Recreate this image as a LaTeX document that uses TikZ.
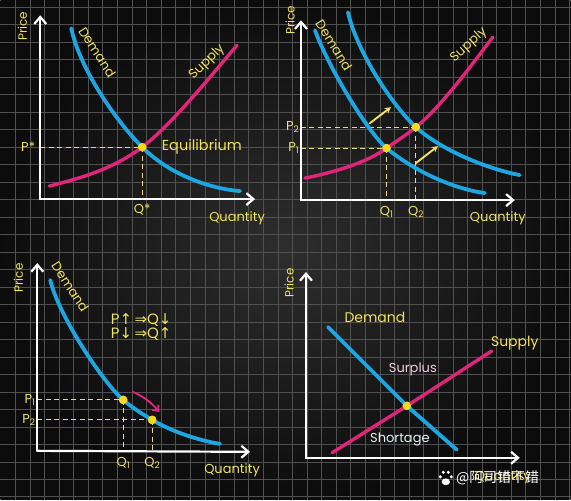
\documentclass[tikz,border=0pt]{standalone}
\usepackage{fontspec}
\setmainfont{Poppins}
\newfontfamily\symfont{DejaVu Sans}
\newfontfamily\cjkfont{Noto Sans CJK SC}
\usepackage{tikz}
\usetikzlibrary{arrows.meta,positioning,calc}
\definecolor{bdinner}{HTML}{2E2E2E}
\definecolor{bdouter}{HTML}{0C0C0C}
\definecolor{gridgray}{HTML}{505050}
\definecolor{dblue}{HTML}{1CA6E2}
\definecolor{smagenta}{HTML}{E2247A}
\definecolor{chalkyellow}{HTML}{F2E260}
\definecolor{dashyellow}{HTML}{E6DA8C}
\definecolor{dotyellow}{HTML}{F7D81C}
\definecolor{surpluspink}{HTML}{F2CFE2}
\definecolor{chalkwhite}{HTML}{E8F2F2}
\newcommand{\upar}{{\symfont\char"2191}}
\newcommand{\dnar}{{\symfont\char"2193}}
\newcommand{\impl}{{\symfont\char"21D2}}
\newcommand{\idx}[1]{{\fontsize{9}{10}\selectfont\raisebox{-2pt}{#1}}}

\begin{document}
\begin{tikzpicture}[x=1pt, y=-1pt,
  gridline/.style={draw=gridgray, line width=0.6pt},
  axis/.style={draw=white, line width=2.2pt, line cap=round, -{Straight Barb[length=7pt,width=12pt]}},
  dcurve/.style={draw=dblue, line width=3.8pt, line cap=round},
  scurve/.style={draw=smagenta, line width=3.4pt, line cap=round},
  guide/.style={draw=dashyellow, line width=1.2pt, dash pattern=on 5pt off 3.5pt},
  spot/.style={circle, fill=dotyellow, inner sep=0pt, minimum size=8.5pt},
  lab/.style={text=chalkyellow, inner sep=1pt, font=\fontsize{13}{15}\selectfont},
  axlab/.style={lab, rotate=90, font=\fontsize{12}{14}\selectfont},
  nudge/.style={draw=chalkyellow, line width=1.9pt, line cap=round, -{Stealth[length=6pt,width=6.5pt]}},
  slide/.style={draw=smagenta, line width=1.9pt, line cap=round, -{Straight Barb[length=4.5pt,width=8pt]}}]

% board
\shade[inner color=bdinner, outer color=bdouter] (0,0) rectangle (571,500);
\foreach \i in {0,...,38} \draw[gridline] ({15+14.6*\i},0) -- ({15+14.6*\i},500);
\foreach \j in {0,...,28} \draw[gridline] (0,{7+17.5*\j}) -- (571,{7+17.5*\j});
\useasboundingbox (0,0) rectangle (571,500);

% ---- panel 1: equilibrium
\coordinate (o1) at (40,199);
\node[spot] (e1) at (142,147) {};
\coordinate (q1) at (e1 |- o1);
\coordinate (p1) at (o1 |- e1);
\draw[guide] (p1) -- (e1.center);
\draw[guide] (e1.center) -- (q1);
\draw[scurve] (49,186) .. controls (80,178) and (112,169.5) .. (e1.center)
  .. controls (172,124.5) and (217,68) .. (237,45);
\draw[dcurve] (71,28) .. controls (80,70) and (117,122) .. (e1.center)
  .. controls (167,172) and (205,188) .. (240,191);
\node[spot] at (e1) {};
\draw[axis] (o1) -- (40,15);
\draw[axis] (o1) -- (255,199);
\node[axlab] (price1) at (22,26) {Price};
\node[lab, rotate=-57] (dem1) at (97,52) {Demand};
\node[lab, rotate=45] (sup1) at (207,62) {Supply};
\node[lab, left=4pt of p1] (pstar) {P*};
\node[lab, below=4pt of q1] (qstar) {Q*};
\node[lab, right=14pt of e1, font=\fontsize{14.5}{16}\selectfont] (eqm) {Equilibrium};
\node[lab] (qty1) at (237,218) {Quantity};

% ---- panel 2: demand shift
\coordinate (o2) at (301,200);
\node[spot] (e21) at (386.6,148) {};
\node[spot] (e22) at (416,127) {};
\coordinate (q21) at (e21 |- o2);
\coordinate (q22) at (e22 |- o2);
\coordinate (p21) at (o2 |- e21);
\coordinate (p22) at (o2 |- e22);
\draw[guide] (p22) -- (e22.center);
\draw[guide] (e22.center) -- (q22);
\draw[guide] (p21) -- (e21.center);
\draw[guide] (e21.center) -- (q21);
\draw[dcurve] (315,30) .. controls (328,66) and (367,131) .. (e21.center)
  .. controls (412,169) and (450,188) .. (485,193);
\draw[dcurve] (348,12) .. controls (358,55) and (396,109) .. (e22.center)
  .. controls (441,149.5) and (485,168) .. (520,175);
\draw[scurve] (305,178) .. controls (335,172) and (367,162.4) .. (e21.center)
  .. controls (397,140.8) and (406,135) .. (e22.center)
  .. controls (441,107) and (473,63) .. (493,37);
\node[spot] at (e21) {};
\node[spot] at (e22) {};
\coordinate (n1a) at (370,123);
\coordinate (n1b) at (391,107);
\coordinate (n2a) at (416,163);
\coordinate (n2b) at (438,146);
\draw[nudge] (n1a) -- (n1b);
\draw[nudge] (n2a) -- (n2b);
\draw[axis] (o2) -- (301,20);
\draw[axis] (o2) -- (515,200);
\node[axlab] (price2) at (290,20) {Price};
\node[lab, rotate=-58] (dem2) at (334,45) {Demand};
\node[lab, rotate=42] (sup2) at (469,45) {Supply};
\node[lab, left=1pt of p22] (pp2) {P\idx{2}};
\node[lab, left=1pt of p21] (pp1) {P\idx{1}};
\node[lab, below=5pt of q21] (qq1) {Q\idx{1}};
\node[lab, below=5pt of q22] (qq2) {Q\idx{2}};
\node[lab] (qty2) at (498,218) {Quantity};

% ---- panel 3: movement along demand
\coordinate (o3) at (37,451);
\node[spot] (e31) at (123,400) {};
\node[spot] (e32) at (152,420) {};
\coordinate (q31) at (e31 |- o3);
\coordinate (q32) at (e32 |- o3);
\coordinate (p31) at (o3 |- e31);
\coordinate (p32) at (o3 |- e32);
\draw[guide] (p31) -- (e31.center);
\draw[guide] (e31.center) -- (q31);
\draw[guide] (p32) -- (e32.center);
\draw[guide] (e32.center) -- (q32);
\draw[dcurve] (50,280) .. controls (58,315) and (103,383) .. (e31.center)
  .. controls (133,408.5) and (142,414) .. (e32.center)
  .. controls (172,432) and (200,441) .. (220,444);
\node[spot] at (e31) {};
\node[spot] at (e32) {};
\coordinate (m1) at (133,392);
\coordinate (m2) at (159,412);
\draw[slide] (m1) to[bend left=12] (m2);
\draw[axis] (o3) -- (37,263);
\draw[axis] (o3) -- (250,452);
\node[axlab] (price3) at (18,278) {Price};
\node[lab, rotate=-57] (dem3) at (70,287) {Demand};
\node[lab, font=\fontsize{15}{17}\selectfont] (rule1) at (141,320) {P\upar\,\impl Q\dnar};
\node[lab, font=\fontsize{15}{17}\selectfont, below=-1pt of rule1] (rule2) {P\dnar\,\impl Q\upar};
\node[lab, left=1pt of p31] (pp31) {P\idx{1}};
\node[lab, left=1pt of p32] (pp32) {P\idx{2}};
\node[lab, below=5pt of q31] (qq31) {Q\idx{1}};
\node[lab, below=5pt of q32] (qq32) {Q\idx{2}};
\node[lab] (qty3) at (232,470) {Quantity};

% ---- panel 4: surplus and shortage
\coordinate (o4) at (306,458);
\node[spot] (e4) at (407,406) {};
\draw[dcurve] (328,327) -- (e4.center) -- (457,450);
\draw[scurve] (332,453) -- (e4.center) -- (492,351);
\node[spot] at (e4) {};
\draw[axis] (o4) -- (306,272);
\draw[axis] (o4) -- (520,458);
\node[axlab] (price4) at (289,283) {Price};
\node[lab, font=\fontsize{14}{16}\selectfont] (dem4) at (375,317) {Demand};
\node[lab, font=\fontsize{14}{16}\selectfont] (sup4) at (515,343) {Supply};
\node[lab, text=surpluspink] (surp) at (413,369) {Surplus};
\node[lab, text=chalkwhite] (short) at (400,440) {Shortage};
\node[lab] (qty4) at (503,477) {Quantity};

% watermark
\fill[white] (446,482) ellipse (4.2pt and 3.4pt);
\foreach \tx/\ty in {440.5/477, 443.5/472.5, 448.5/472.5, 451.5/477} \fill[white] (\tx,\ty) circle (1.7pt);
\node[text=white, inner sep=0pt, font=\cjkfont\fontsize{14}{16}\selectfont, anchor=west] (mark) at (456,478) {@阿司错不错};
\end{tikzpicture}
\end{document}
